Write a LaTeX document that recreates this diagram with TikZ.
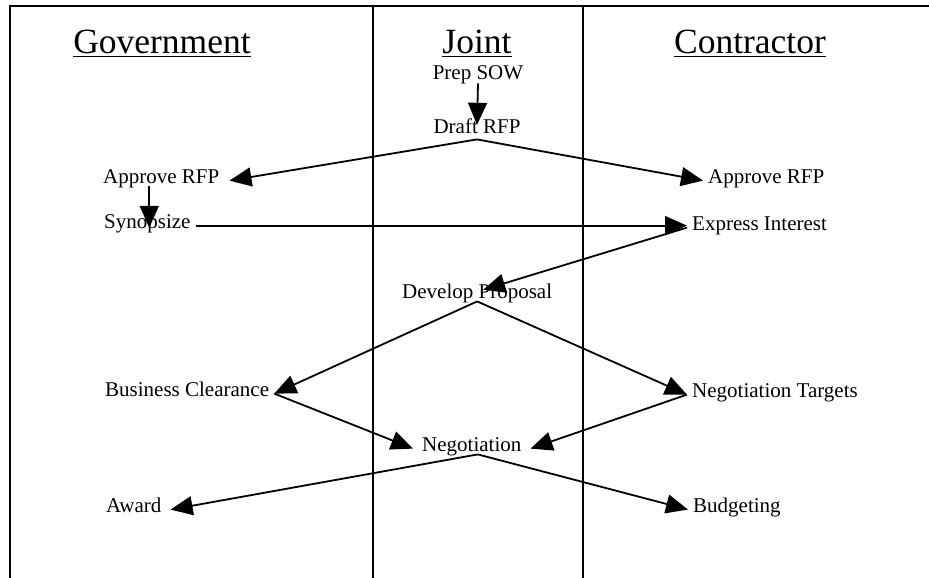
\documentclass[tikz,border=0pt]{standalone}
\usepackage{fontspec}
\setmainfont{Liberation Serif}
\usetikzlibrary{arrows.meta}
\tikzset{
  lbl/.style={inner xsep=5pt, inner ysep=1pt, text height=0.7em, text depth=0.22em,
    font=\fontsize{21}{25}\selectfont},
  head/.style={anchor=base, inner sep=0pt, font=\fontsize{35.5}{42}\selectfont},
  flow/.style={line width=1.8pt, -{Triangle[length=22pt,width=19pt]}},
  lane/.style={line width=1.8pt}
}
\begin{document}
\begin{tikzpicture}[x=1pt,y=-1pt]
  \useasboundingbox (0,0) rectangle (929,578);
  % lanes
  \draw[lane] (929,6) -- (10,6) -- (10,578);
  \draw[lane] (373,6) -- (373,578);
  \draw[lane] (583,6) -- (583,578);
  \node[head] (gov) at (162,54) {\underline{Government}};
  \node[head] (joint) at (477,54) {\underline{Joint}};
  \node[head] (con) at (750,54) {\underline{Contractor}};
  % steps
  \node[lbl, anchor=base] (prep) at (478,80) {Prep SOW};
  \node[lbl, anchor=base] (draft) at (477,133) {Draft RFP};
  \node[lbl, anchor=base west] (apprG) at (98,183) {Approve RFP};
  \node[lbl, anchor=base west] (apprC) at (703,183) {Approve RFP};
  \node[lbl, anchor=base west] (synop) at (99,228) {Synopsize};
  \node[lbl, anchor=base west] (intr) at (687,230) {Express Interest};
  \node[lbl, anchor=base west] (devp) at (397,298) {Develop Proposal};
  \node[lbl, anchor=base west] (bclr) at (100,396) {Business Clearance};
  \node[lbl, anchor=base west] (targ) at (687,397) {Negotiation Targets};
  \node[lbl, anchor=base west] (nego) at (417,451) {Negotiation};
  \node[lbl, anchor=base west] (award) at (101,512) {Award};
  \node[lbl, anchor=base west] (budg) at (688,512) {Budgeting};
  % arrows
  \draw[flow] (prep.south) -- (draft.north);
  \draw[flow] ([yshift=-3pt]draft.south) -- ([xshift=5pt]apprG.east);
  \draw[flow] ([yshift=-3pt]draft.south) -- (apprC.west);
  \draw[flow, shorten >=-8pt] ([xshift=-12pt]apprG.south) -- ([xshift=-12pt]apprG.south |- synop.north);
  \draw[flow] (synop.east) -- (synop.east -| intr.west);
  \draw[flow] (intr.west) -- ([xshift=6pt]devp.north);
  \draw[flow] (devp.south) -- (bclr.east);
  \draw[flow] (devp.south) -- (targ.west);
  \draw[flow] (bclr.east) -- ([xshift=-4pt]nego.west);
  \draw[flow] (targ.west) -- ([xshift=4pt]nego.east);
  \draw[flow] ([xshift=6pt]nego.south) -- ([xshift=4pt]award.east);
  \draw[flow] ([xshift=6pt]nego.south) -- (budg.west);
\end{tikzpicture}
\end{document}
